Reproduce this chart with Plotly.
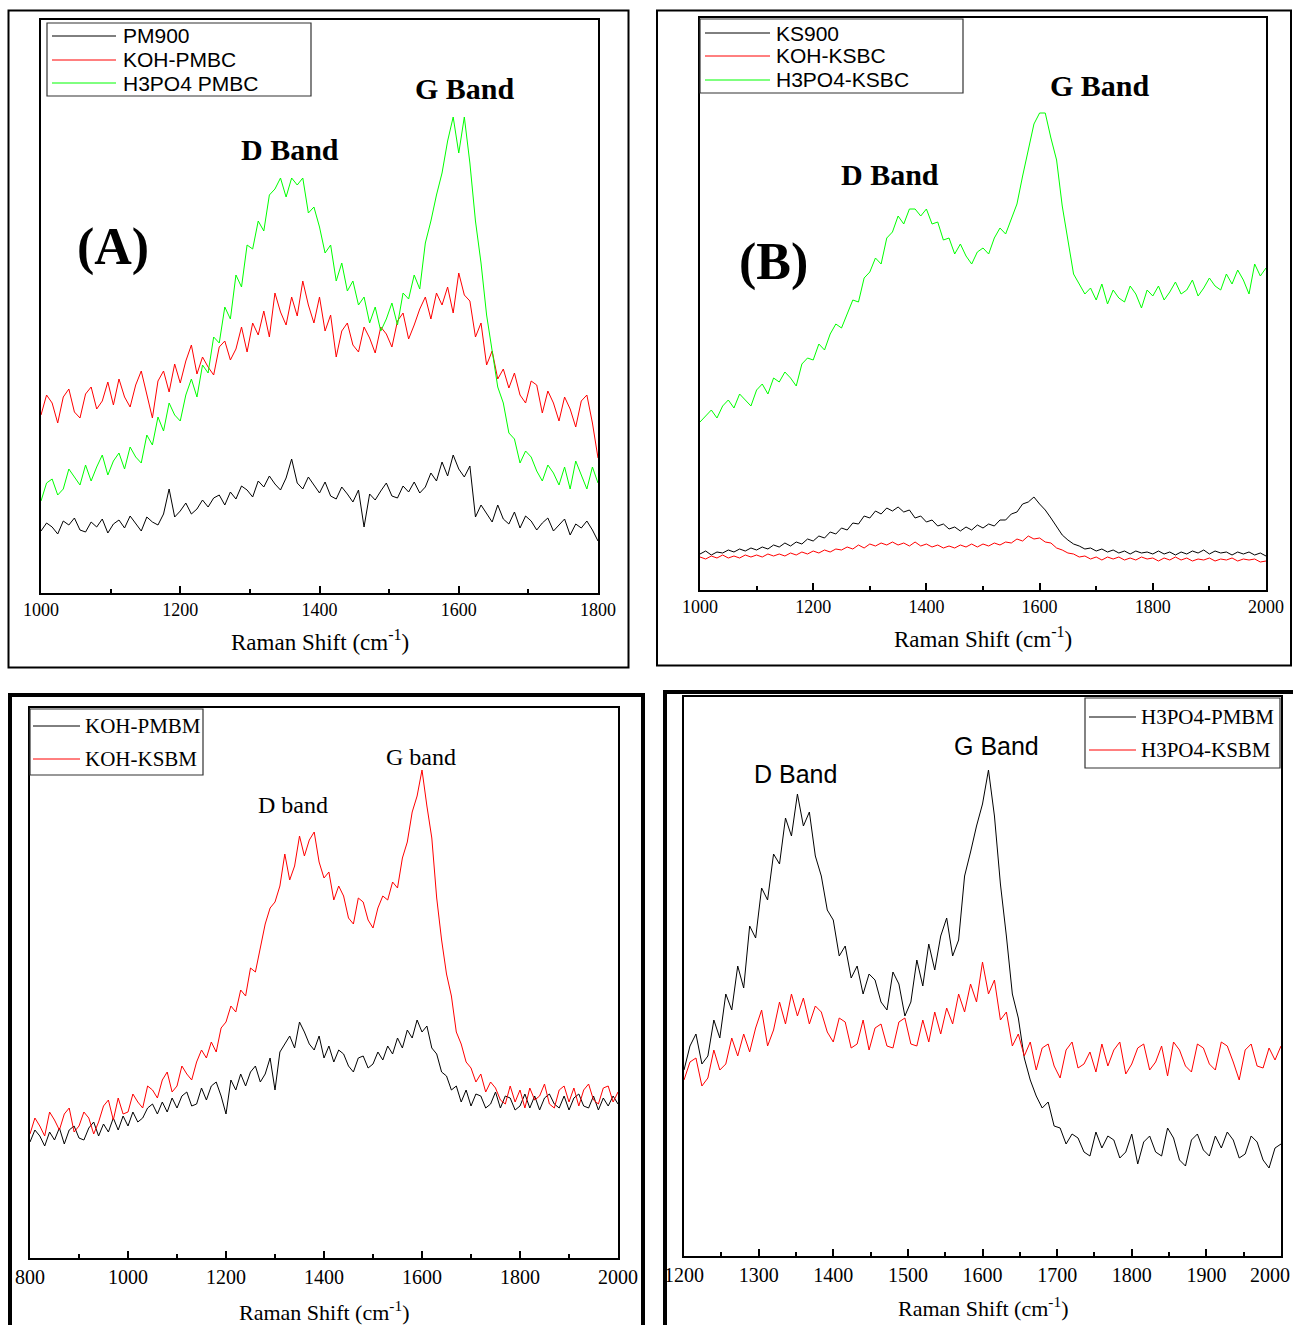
import plotly.graph_objects as go

# ---------------------------------------------------------------------------
# Raman spectra (intensity in arbitrary units)
# ---------------------------------------------------------------------------

# Panel A : biochar from PM precursor, 1000-1800 cm-1, sampled every 8 cm-1
shift_a = list(range(1000, 1801, 8))
pm900 = [62, 70, 66, 59, 72, 68, 75, 63, 61, 71,
         66, 74, 60, 69, 73, 65, 77, 70, 62, 76,
         71, 68, 79, 104, 76, 82, 90, 79, 84, 93,
         86, 95, 98, 88, 101, 94, 107, 103, 96, 112,
         106, 117, 109, 103, 115, 134, 110, 104, 116, 108,
         100, 111, 97, 94, 106, 99, 91, 103, 66, 99,
         93, 102, 110, 97, 95, 107, 101, 111, 100, 106,
         120, 112, 131, 117, 138, 124, 116, 127, 76, 88,
         80, 71, 88, 74, 69, 81, 65, 77, 72, 63,
         70, 75, 62, 68, 74, 58, 69, 65, 72, 63,
         52]
koh_pmbc = [178, 198, 190, 170, 196, 204, 181, 175, 199, 206,
            184, 192, 211, 188, 214, 196, 186, 208, 222, 198,
            175, 212, 222, 201, 229, 210, 232, 248, 219, 236,
            226, 218, 246, 252, 233, 244, 266, 241, 270, 258,
            282, 256, 300, 281, 268, 296, 277, 312, 288, 270,
            296, 262, 278, 236, 262, 270, 248, 241, 266, 255,
            240, 266, 259, 246, 272, 280, 254, 268, 284, 296,
            274, 300, 288, 306, 280, 320, 298, 292, 256, 270,
            228, 242, 214, 224, 205, 220, 198, 190, 212, 208,
            180, 202, 190, 172, 196, 184, 166, 192, 198, 170,
            135]
h3po4_pmbc = [92, 110, 114, 98, 104, 124, 116, 108, 128, 112,
              126, 138, 118, 132, 140, 124, 146, 136, 130, 158,
              148, 176, 162, 190, 178, 172, 198, 214, 196, 228,
              220, 256, 250, 286, 274, 318, 306, 348, 344, 372,
              362, 398, 404, 415, 396, 415, 408, 415, 380, 386,
              366, 340, 348, 312, 330, 302, 312, 288, 296, 270,
              286, 262, 274, 290, 268, 300, 294, 318, 304, 350,
              372, 398, 420, 452, 476, 440, 476, 430, 372, 330,
              278, 244, 206, 190, 160, 154, 130, 142, 136, 122,
              112, 128, 120, 108, 126, 104, 132, 118, 104, 126,
              110]

# Panel B : biochar from KS precursor, 1000-2000 cm-1, sampled every 10 cm-1
shift_b = list(range(1000, 2001, 10))
ks900 = [36, 39, 35, 38, 37, 40, 38, 41, 39, 42,
         40, 43, 41, 45, 43, 47, 44, 48, 46, 51,
         49, 54, 52, 58, 56, 62, 60, 67, 66, 74,
         72, 79, 76, 82, 79, 83, 78, 80, 72, 74,
         68, 70, 64, 66, 61, 63, 59, 63, 60, 65,
         62, 66, 64, 70, 70, 76, 78, 86, 88, 93,
         86, 80, 72, 64, 55, 50, 46, 44, 41, 42,
         39, 41, 38, 40, 37, 39, 36, 39, 37, 38,
         36, 39, 36, 38, 35, 38, 36, 39, 37, 40,
         36, 39, 37, 38, 35, 38, 36, 38, 35, 37,
         34]
koh_ksbc = [33, 31, 34, 32, 35, 32, 34, 32, 35, 33,
            35, 33, 36, 34, 36, 34, 37, 35, 38, 36,
            39, 37, 40, 38, 41, 40, 43, 41, 45, 42,
            46, 44, 47, 45, 48, 45, 47, 44, 48, 44,
            46, 43, 45, 42, 44, 42, 45, 43, 46, 43,
            46, 44, 47, 45, 48, 47, 51, 49, 54, 51,
            52, 48, 47, 42, 40, 37, 36, 33, 34, 31,
            33, 30, 33, 31, 33, 30, 32, 30, 33, 31,
            32, 29, 32, 30, 33, 30, 32, 29, 31, 30,
            32, 29, 31, 30, 32, 29, 31, 30, 31, 28,
            29]
h3po4_ksbc = [168, 174, 180, 172, 184, 190, 182, 196, 190, 184,
              200, 206, 196, 212, 208, 218, 212, 204, 226, 232,
              230, 246, 240, 256, 266, 262, 276, 290, 288, 312,
              318, 332, 326, 352, 358, 374, 366, 381, 381, 374,
              381, 366, 368, 350, 352, 336, 346, 334, 326, 338,
              342, 336, 352, 362, 356, 370, 386, 414, 440, 466,
              477, 477, 452, 430, 384, 350, 316, 306, 296, 302,
              290, 306, 286, 300, 292, 288, 304, 296, 282, 300,
              294, 304, 290, 298, 308, 296, 300, 310, 294, 302,
              312, 304, 300, 316, 306, 320, 310, 296, 326, 314,
              322]

# Panel C : KOH activated biomass, 800-2000 cm-1, sampled every 10 cm-1
shift_c = list(range(800, 2001, 10))
koh_pmbm = [116, 128, 122, 112, 126, 118, 130, 114, 128, 132,
            120, 118, 130, 136, 122, 134, 126, 140, 128, 142,
            132, 146, 136, 140, 150, 154, 144, 156, 146, 160,
            150, 162, 166, 152, 154, 170, 158, 172, 176, 162,
            144, 178, 168, 184, 172, 186, 192, 176, 184, 200,
            168, 206, 214, 222, 210, 236, 226, 214, 208, 222,
            200, 212, 196, 208, 204, 192, 186, 200, 202, 190,
            194, 206, 198, 212, 204, 220, 210, 228, 220, 238,
            226, 232, 210, 204, 186, 182, 168, 172, 156, 168,
            152, 164, 162, 150, 154, 166, 150, 162, 160, 148,
            152, 164, 150, 162, 148, 160, 164, 154, 150, 162,
            148, 160, 164, 152, 150, 162, 148, 160, 152, 162,
            154]
koh_ksbm = [124, 140, 132, 122, 146, 138, 128, 144, 150, 126,
            132, 146, 140, 124, 136, 152, 158, 138, 160, 144,
            146, 164, 156, 150, 172, 168, 160, 178, 186, 166,
            172, 192, 184, 178, 196, 208, 200, 216, 206, 230,
            236, 252, 246, 268, 262, 290, 286, 310, 334, 350,
            356, 372, 404, 378, 392, 422, 402, 418, 426, 396,
            380, 386, 358, 372, 362, 340, 334, 360, 356, 338,
            330, 350, 362, 358, 376, 370, 400, 416, 446, 462,
            488, 452, 420, 360, 318, 284, 262, 226, 214, 196,
            190, 176, 184, 166, 176, 170, 158, 154, 172, 156,
            168, 150, 170, 158, 162, 174, 154, 150, 168, 172,
            156, 170, 152, 168, 174, 158, 154, 170, 172, 156,
            166]

# Panel D : H3PO4 activated biomass, 1200-2000 cm-1, sampled every 8 cm-1
shift_d = list(range(1200, 2001, 8))
h3po4_pmbm = [186, 210, 222, 192, 200, 236, 218, 262, 246, 290,
              268, 330, 318, 368, 356, 402, 392, 438, 420, 462,
              430, 444, 400, 380, 346, 336, 300, 310, 278, 290,
              262, 282, 276, 254, 246, 284, 272, 240, 254, 296,
              270, 312, 286, 320, 338, 300, 316, 380, 404, 430,
              452, 486, 440, 372, 320, 262, 238, 198, 176, 160,
              148, 154, 130, 128, 112, 122, 118, 104, 100, 124,
              108, 120, 116, 98, 104, 122, 92, 114, 120, 104,
              100, 128, 118, 96, 90, 116, 122, 106, 100, 120,
              108, 124, 116, 98, 102, 120, 114, 96, 88, 108,
              112]
h3po4_ksbm = [176, 194, 198, 170, 178, 206, 186, 192, 218, 200,
              222, 204, 228, 246, 210, 226, 254, 232, 262, 240,
              258, 232, 250, 244, 224, 214, 238, 234, 208, 212,
              236, 206, 228, 232, 210, 208, 234, 238, 212, 210,
              236, 214, 244, 222, 248, 232, 262, 244, 272, 254,
              294, 262, 276, 236, 244, 210, 222, 200, 214, 186,
              208, 212, 190, 178, 206, 214, 188, 192, 204, 184,
              212, 190, 206, 214, 182, 192, 208, 212, 186, 194,
              210, 180, 214, 206, 190, 184, 212, 208, 192, 186,
              214, 210, 194, 176, 206, 212, 190, 188, 208, 196,
              210]

# tick labels of the last panel (the final one sits against the page edge)
ticks_d = [1200, 1300, 1400, 1500, 1600, 1700, 1800, 1900]
last_tick_d = "2000"

# ---------------------------------------------------------------------------
# Page geometry helpers (pixel -> paper fraction)
# ---------------------------------------------------------------------------
W, H = 1293, 1325


def px(x):
    return x / W


def py(y):
    return 1 - y / H


BLACK, RED, GREEN = "#000000", "#ff0000", "#00ff00"
SERIF = "Liberation Serif, Times New Roman, serif"
SANS = "Liberation Sans, Arial, sans-serif"
NARROW = "Liberation Sans Narrow, Arial Narrow, Liberation Sans, sans-serif"

fig = go.Figure()


def add(x, y, name, color, xa, ya):
    fig.add_trace(go.Scatter(x=x, y=y, name=name, mode="lines",
                             line=dict(color=color, width=1),
                             xaxis=xa, yaxis=ya, showlegend=False))


add(shift_a, pm900, "PM900", BLACK, "x", "y")
add(shift_a, koh_pmbc, "KOH-PMBC", RED, "x", "y")
add(shift_a, h3po4_pmbc, "H3PO4 PMBC", GREEN, "x", "y")

add(shift_b, ks900, "KS900", BLACK, "x2", "y2")
add(shift_b, koh_ksbc, "KOH-KSBC", RED, "x2", "y2")
add(shift_b, h3po4_ksbc, "H3PO4-KSBC", GREEN, "x2", "y2")

add(shift_c, koh_pmbm, "KOH-PMBM", BLACK, "x3", "y3")
add(shift_c, koh_ksbm, "KOH-KSBM", RED, "x3", "y3")

add(shift_d, h3po4_pmbm, "H3PO4-PMBM", BLACK, "x4", "y4")
add(shift_d, h3po4_ksbm, "H3PO4-KSBM", RED, "x4", "y4")


def xaxis_style(dom, rng, dtick, minor, anchor, size):
    return dict(domain=[px(dom[0]), px(dom[1])], range=rng, anchor=anchor,
                dtick=dtick, tick0=rng[0], automargin=False,
                showline=True, linecolor="black", linewidth=1.5, mirror=True,
                ticks="inside", ticklen=7, tickwidth=1.5, tickcolor="black",
                minor=dict(ticks="inside", ticklen=4, tickwidth=1.5,
                           tickcolor="black", dtick=minor, showgrid=False),
                showgrid=False, zeroline=False,
                tickfont=dict(family=SERIF, size=size, color="black"))


def yaxis_style(dom, rng, anchor):
    return dict(domain=[py(dom[1]), py(dom[0])], range=rng, anchor=anchor,
                automargin=False,
                showline=True, linecolor="black", linewidth=1.5, mirror=True,
                ticks="", showticklabels=False, showgrid=False, zeroline=False)


xaxis4 = xaxis_style((684, 1281), [1200, 2000], 100, 50, "y4", 20)
# labelled major ticks up to 1900, the unlabelled 2000 tick stays drawn
xaxis4.update(tickmode="array", tickvals=ticks_d + [2000],
              ticktext=[str(v) for v in ticks_d] + [""])

fig.update_layout(
    width=W, height=H, autosize=False,
    margin=dict(l=0, r=0, t=0, b=0, autoexpand=False),
    paper_bgcolor="white", plot_bgcolor="white", showlegend=False,
    xaxis=xaxis_style((41, 598), [1000, 1800], 200, 100, "y", 18),
    yaxis=yaxis_style((20, 593), [0, 573], "x"),
    xaxis2=xaxis_style((700, 1266), [1000, 2000], 200, 100, "y2", 18),
    yaxis2=yaxis_style((18, 590), [0, 572], "x2"),
    xaxis3=xaxis_style((30, 618), [800, 2000], 200, 100, "y3", 20),
    yaxis3=yaxis_style((708, 1258), [0, 550], "x3"),
    xaxis4=xaxis4,
    yaxis4=yaxis_style((697, 1256), [0, 559], "x4"),
)


def label(x, y, text, family, size, xanchor="center"):
    fig.add_annotation(x=px(x), y=py(y), xref="paper", yref="paper",
                       text=text, showarrow=False, xanchor=xanchor,
                       yanchor="middle",
                       font=dict(family=family, size=size, color="black"))


def rect(x0, y0, x1, y1, width):
    fig.add_shape(type="rect", xref="paper", yref="paper",
                  x0=px(x0), y0=py(y0), x1=px(x1), y1=py(y1),
                  line=dict(color="black", width=width),
                  fillcolor="rgba(0,0,0,0)", layer="above")


def legend_box(box, line_x, text_x, rows, family, size):
    """Boxed key: each row is (y, colour, series name)."""
    x0, y0, x1, y1 = box
    fig.add_shape(type="rect", xref="paper", yref="paper",
                  x0=px(x0), y0=py(y0), x1=px(x1), y1=py(y1),
                  line=dict(color="#333333", width=1.2), fillcolor="white",
                  layer="above")
    for y, color, name in rows:
        fig.add_shape(type="line", xref="paper", yref="paper",
                      x0=px(line_x[0]), x1=px(line_x[1]), y0=py(y), y1=py(y),
                      line=dict(color=color, width=1), layer="above")
        label(text_x, y, name, family, size, xanchor="left")


# keys
legend_box((47, 23, 311, 96), (52, 116), 121,
           [(36, BLACK, "PM900"), (60, RED, "KOH-PMBC"),
            (83, GREEN, "H3PO4 PMBC")], SANS, 21)
legend_box((700, 19, 963, 93), (705, 770), 774,
           [(33, BLACK, "KS900"), (56, RED, "KOH-KSBC"),
            (80, GREEN, "H3PO4-KSBC")], SANS, 21)
legend_box((30, 709, 203, 775), (33, 80), 83,
           [(726, BLACK, "KOH-PMBM"), (759, RED, "KOH-KSBM")], SERIF, 21)
legend_box((1085, 698, 1280, 768), (1089, 1136), 1139,
           [(717, BLACK, "H3PO4-PMBM"), (750, RED, "H3PO4-KSBM")], SERIF, 21)

# last tick label of panel D, kept inside the page
label(1292, 1275, last_tick_d, SERIF, 20, xanchor="right")

# band labels and panel tags
label(465, 88, "<b>G Band</b>", SERIF, 30)
label(290, 150, "<b>D Band</b>", SERIF, 30)
label(113, 247, "<b>(A)</b>", SERIF, 52)

label(1100, 86, "<b>G Band</b>", SERIF, 30)
label(890, 175, "<b>D Band</b>", SERIF, 30)
label(773, 262, "<b>(B)</b>", SERIF, 52)

label(421, 757, "G band", SERIF, 24)
label(293, 805, "D band", SERIF, 24)

label(996, 746, "G Band", NARROW, 25)
label(795, 774, "D Band", NARROW, 25)

# axis titles
title = "Raman Shift (cm<sup>-1</sup>)"
label(320, 640, title, SERIF, 23)
label(983, 637, title, SERIF, 23)
label(324, 1311, title, SERIF, 22)
label(983, 1307, title, SERIF, 22)

# outer panel frames
rect(8.5, 10.5, 628.5, 667.5, 2)
rect(657, 10.5, 1291, 665.5, 2)
rect(10, 695, 643, 1340, 4)
rect(665, 692, 1310, 1340, 4)

fig.write_html("out.html")
